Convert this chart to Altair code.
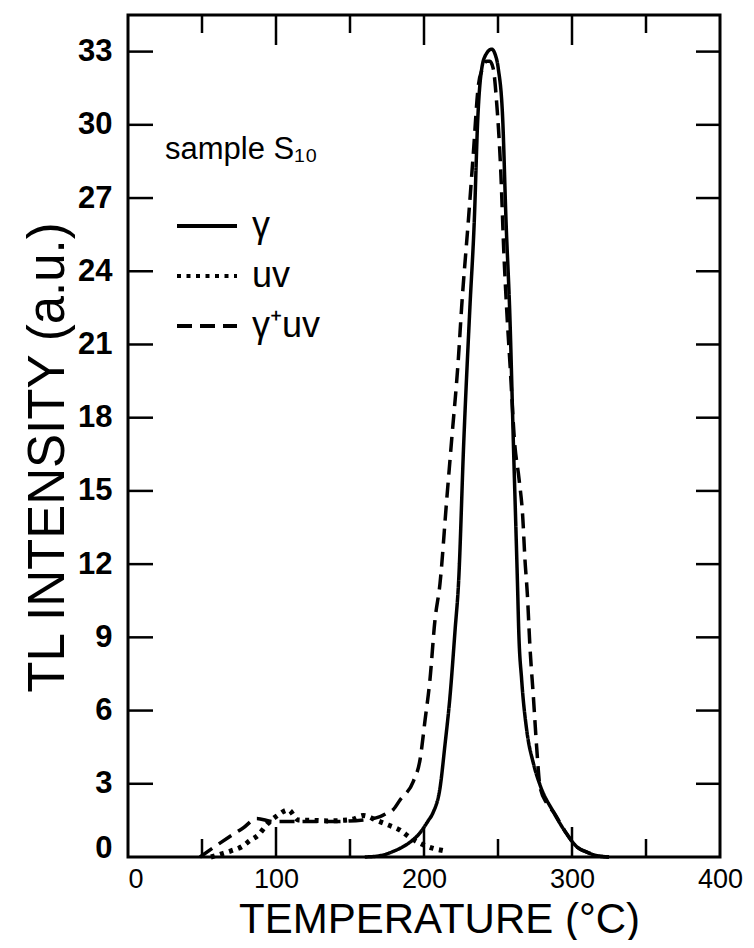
import altair as alt
import pandas as pd

# --- data (temperature in °C, TL intensity in a.u.) ---
gamma_T = [160, 170, 180, 188, 197, 203, 206, 211, 214, 217.6, 221, 223.4, 226.8, 231, 234,
           236.3, 239, 242, 245.7, 248, 250.2, 253.2, 255.4, 258, 260.4, 263.3, 264, 266,
           269.4, 273.9, 278.4, 287.4, 296.4, 303.2, 310, 317, 325]
gamma_I = [0, 0.05, 0.25, 0.5, 0.97, 1.5, 1.8, 2.9, 4.5, 6.6, 9.3, 11.3, 16.9, 22.5, 26.1,
           30.2, 32.3, 32.9, 33.1, 32.9, 32.3, 30.2, 26.1, 22.2, 16.95, 10.9, 9.3, 7.25,
           5.2, 3.84, 2.95, 1.85, 0.95, 0.42, 0.2, 0.05, 0]

uv_T = [56, 64.4, 70, 76.8, 82.4, 88, 94.1, 100.5, 108.3, 115, 125, 135, 145, 152, 159,
        168, 175.9, 183.8, 190.5, 198.4, 206.3, 213, 216]
uv_I = [0, 0.15, 0.26, 0.42, 0.67, 0.9, 1.35, 1.68, 1.93, 1.52, 1.5, 1.48, 1.5, 1.55, 1.7,
        1.5, 1.31, 1.1, 0.8, 0.53, 0.35, 0.26, 0.22]

gu_T = [48.6, 58, 67.8, 78, 87, 98, 114, 136.5, 159, 170.3, 174.8, 179.3, 183.8, 192.8,
        197.3, 200.7, 204, 207.4, 210.8, 215.3, 218.7, 223.2, 225.4, 230, 233.3, 236.7,
        239.5, 242.3, 244.5, 246.8, 249.1, 251.8, 254, 255.9, 258.2, 261.2, 264.2,
        266.7, 268.2, 269.8, 271.6, 273.9, 276.1, 278.4, 283, 287.4, 296.4, 303.2, 310,
        317, 325]
gu_I = [0, 0.4, 0.8, 1.2, 1.58, 1.45, 1.45, 1.45, 1.52, 1.65, 1.79, 1.95, 2.34, 3.1,
        3.98, 5.6, 7.25, 9.7, 11.2, 14.6, 17.1, 20.4, 22.5, 26.1, 28.8, 31.6,
        32.3, 32.6, 32.6, 32.3, 30.9, 28.2, 24.7, 22.4, 20.1, 17.0, 15.5,
        13.95, 12.2, 10.8, 8.6, 6.57, 4.52, 2.88, 2.2, 1.85, 0.95, 0.42, 0.2,
        0.05, 0]

series_names = ["γ", "uv", "γ⁺uv"]
x_major_ticks = [100, 200, 300]
x_minor_ticks = [50, 150, 250, 350]
y_ticks = [3, 6, 9, 12, 15, 18, 21, 24, 27, 30, 33]
x_labels = [0, 100, 200, 300, 400]
y_labels = [0, 3, 6, 9, 12, 15, 18, 21, 24, 27, 30, 33]


def frame(name, ts, vs):
    return pd.DataFrame({"series": name, "T": ts, "I": vs, "order": list(range(len(ts)))})


df_main = pd.concat([frame("γ", gamma_T, gamma_I), frame("γ⁺uv", gu_T, gu_I)], ignore_index=True)
df_uv = frame("uv", uv_T, uv_I)

W, H = 592, 842
FONT = "Liberation Sans"

xscale = alt.Scale(domain=[0, 400], nice=False, zero=False)
yscale = alt.Scale(domain=[0, 34.5], nice=False, zero=False)

x_axis = alt.Axis(values=x_labels, title="TEMPERATURE (°C)",
                  labelFontSize=27, labelPadding=9,
                  labelAlign=alt.condition("datum.value == 0", alt.value("left"), alt.value("center")),
                  titleFontSize=42, titleFontWeight="normal",
                  titleX=311, titleY=75, titleBaseline="alphabetic", titleAlign="center")
y_axis = alt.Axis(values=y_labels, title="TL INTENSITY (a.u.)",
                  labelFontSize=31, labelFontWeight="bold", labelPadding=16,
                  labelBaseline=alt.condition("datum.value == 0", alt.value("alphabetic"), alt.value("middle")),
                  titleFontSize=51, titleFontWeight="normal",
                  titleX=-65, titleY=442, titleAngle=-90,
                  titleBaseline="alphabetic", titleAlign="center")

legend = alt.Legend(orient="none", legendX=37, legendY=120,
                    title="sample S₁₀", titleFontSize=31, titleFontWeight="normal",
                    titlePadding=28, labelFontSize=36, labelOffset=13,
                    symbolType="stroke", symbolSize=3600, symbolStrokeWidth=3.8,
                    symbolStrokeColor="black", symbolOffset=10,
                    rowPadding=-4, padding=0)

dash = alt.StrokeDash(
    "series:N",
    scale=alt.Scale(domain=series_names, range=[[1, 0], [4, 5.5], [15, 8]]),
    legend=legend,
)

lines = alt.Chart(df_main).mark_line(color="black", strokeWidth=3.5, interpolate="monotone").encode(
    x=alt.X("T:Q", scale=xscale, axis=x_axis),
    y=alt.Y("I:Q", scale=yscale, axis=y_axis),
    strokeDash=dash,
    order="order:Q",
)
uv_line = alt.Chart(df_uv).mark_line(color="black", strokeWidth=5, interpolate="monotone").encode(
    x=alt.X("T:Q", scale=xscale, axis=x_axis),
    y=alt.Y("I:Q", scale=yscale, axis=y_axis),
    strokeDash=dash,
    order="order:Q",
)

xmaj = pd.DataFrame({"T": x_major_ticks})
xmin = pd.DataFrame({"T": x_minor_ticks})
ytk = pd.DataFrame({"I": y_ticks})

tick_style = dict(color="black", strokeWidth=2.5)
bot_major = alt.Chart(xmaj).mark_rule(**tick_style).encode(
    x=alt.X("T:Q", scale=xscale, axis=x_axis), y=alt.value(H), y2=alt.value(H - 30))
bot_minor = alt.Chart(xmin).mark_rule(**tick_style).encode(
    x=alt.X("T:Q", scale=xscale, axis=x_axis), y=alt.value(H), y2=alt.value(H - 18))
top_major = alt.Chart(xmaj).mark_rule(**tick_style).encode(
    x=alt.X("T:Q", scale=xscale, axis=x_axis), y=alt.value(0), y2=alt.value(30))
top_minor = alt.Chart(xmin).mark_rule(**tick_style).encode(
    x=alt.X("T:Q", scale=xscale, axis=x_axis), y=alt.value(0), y2=alt.value(18))
left_t = alt.Chart(ytk).mark_rule(**tick_style).encode(
    y=alt.Y("I:Q", scale=yscale, axis=y_axis), x=alt.value(0), x2=alt.value(25))
right_t = alt.Chart(ytk).mark_rule(**tick_style).encode(
    y=alt.Y("I:Q", scale=yscale, axis=y_axis), x=alt.value(W), x2=alt.value(W - 24))

chart = alt.layer(lines, uv_line, bot_major, bot_minor, top_major, top_minor, left_t, right_t).properties(
    width=W, height=H,
    padding={"left": 120, "top": 7, "right": 26, "bottom": 83},
    autosize=alt.AutoSizeParams(type="none"),
).configure_view(stroke="black", strokeWidth=3).configure_axis(
    grid=False, domain=False, ticks=False,
    labelFont=FONT, titleFont=FONT, labelColor="black", titleColor="black",
).configure_legend(labelFont=FONT, titleFont=FONT, labelColor="black", titleColor="black")

chart.save("out.html", embed_options={"renderer": "svg", "actions": False})
